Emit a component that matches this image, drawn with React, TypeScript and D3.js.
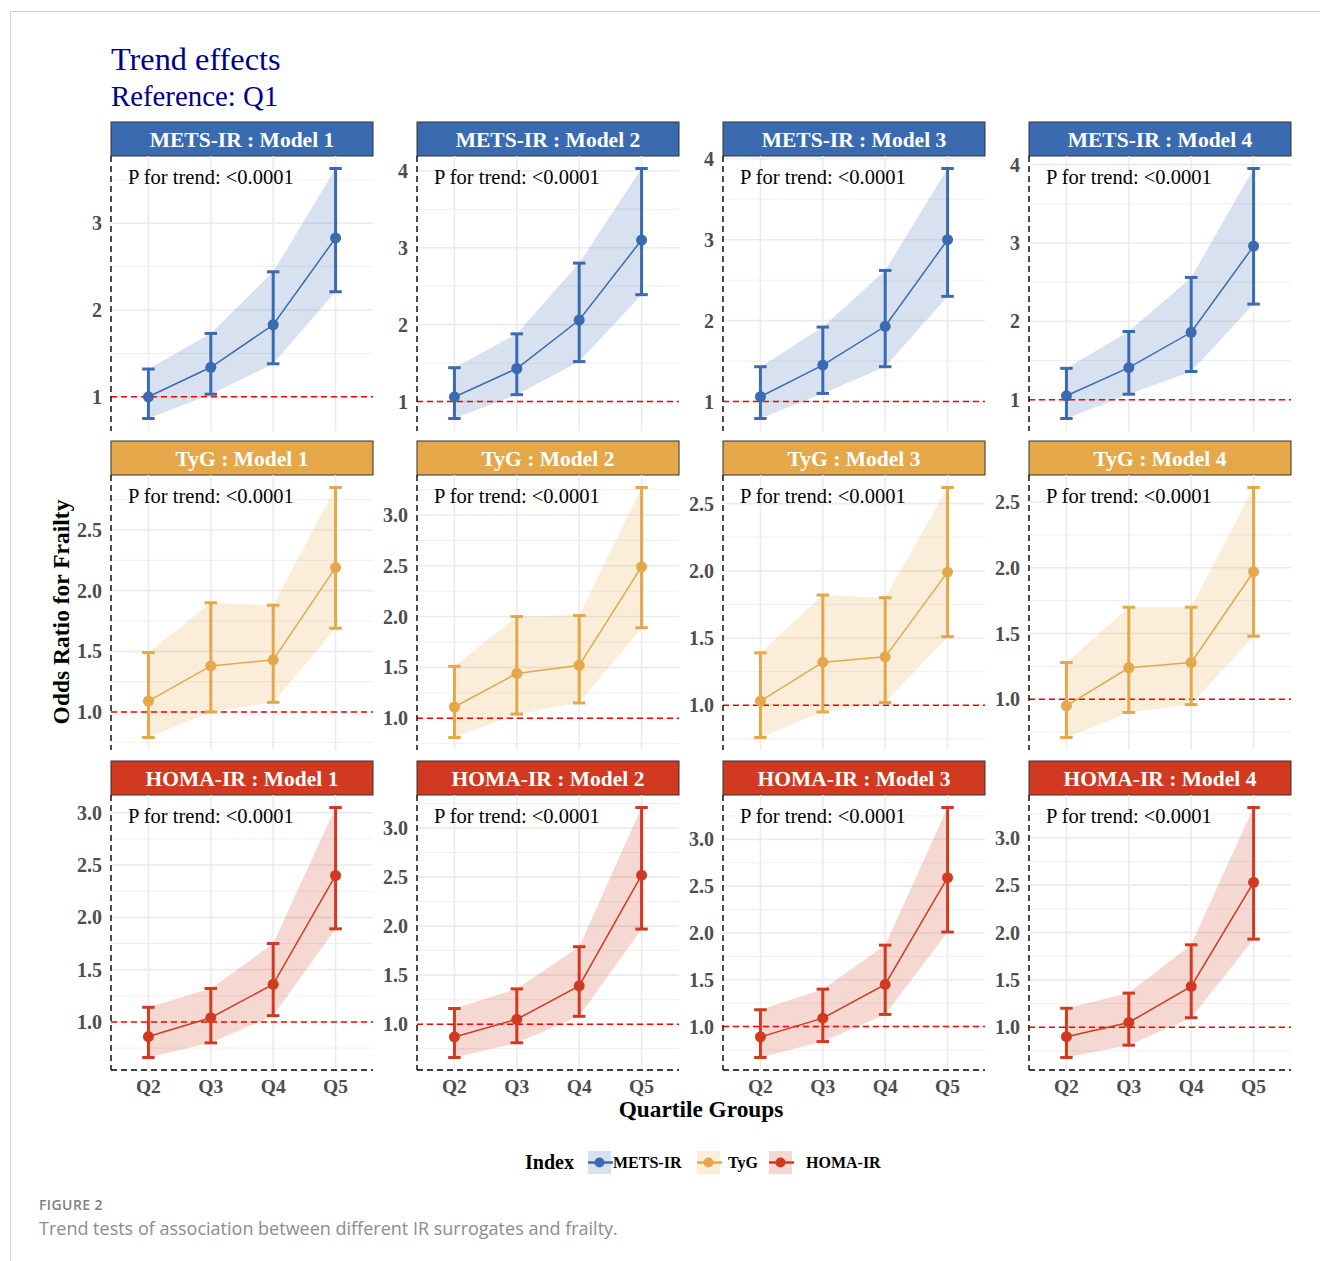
import * as d3 from 'd3'

// panels: rows = index, cols = model
const indices = ['METS-IR', 'TyG', 'HOMA-IR']
const models = ['Model 1', 'Model 2', 'Model 3', 'Model 4']
const quartiles = ['Q2', 'Q3', 'Q4', 'Q5']
const colors = ['#3A6BB1', '#E4A84B', '#D13A20']

// odds ratios (one array per model)
const metsOr = [[1.0, 1.34, 1.83, 2.83], [1.06, 1.43, 2.06, 3.1], [1.06, 1.45, 1.93, 3.0], [1.05, 1.41, 1.86, 2.96]]
const metsLo = [[0.75, 1.03, 1.38, 2.21], [0.78, 1.09, 1.52, 2.39], [0.79, 1.1, 1.43, 2.3], [0.76, 1.07, 1.36, 2.22]]
const metsHi = [[1.32, 1.73, 2.44, 3.63], [1.44, 1.88, 2.8, 4.03], [1.43, 1.92, 2.62, 3.88], [1.4, 1.87, 2.56, 3.95]]

const tygOr = [[1.09, 1.38, 1.43, 2.19], [1.11, 1.44, 1.52, 2.49], [1.03, 1.32, 1.36, 1.99], [0.95, 1.24, 1.28, 1.97]]
const tygLo = [[0.79, 1.0, 1.08, 1.69], [0.81, 1.04, 1.15, 1.89], [0.76, 0.95, 1.02, 1.51], [0.71, 0.9, 0.96, 1.48]]
const tygHi = [[1.49, 1.9, 1.88, 2.85], [1.51, 2.0, 2.01, 3.27], [1.39, 1.82, 1.8, 2.62], [1.28, 1.7, 1.7, 2.61]]

const homaOr = [[0.86, 1.04, 1.36, 2.4], [0.87, 1.05, 1.39, 2.52], [0.89, 1.09, 1.45, 2.59], [0.9, 1.05, 1.43, 2.53]]
const homaLo = [[0.66, 0.8, 1.06, 1.89], [0.66, 0.81, 1.08, 1.97], [0.67, 0.84, 1.13, 2.01], [0.68, 0.81, 1.1, 1.93]]
const homaHi = [[1.14, 1.32, 1.75, 3.05], [1.16, 1.36, 1.79, 3.21], [1.18, 1.4, 1.87, 3.34], [1.2, 1.36, 1.87, 3.32]]

const metsTicks = [1, 2, 3, 4]
const tygTicks = [1.0, 1.5, 2.0, 2.5, 3.0]
const homaTicks = [1.0, 1.5, 2.0, 2.5, 3.0]

const pText = 'P for trend: <0.0001'

const ors = [metsOr, tygOr, homaOr]
const los = [metsLo, tygLo, homaLo]
const his = [metsHi, tygHi, homaHi]
const ticks = [metsTicks, tygTicks, homaTicks]
const tickFmt = [d3.format('d'), d3.format('.1f'), d3.format('.1f')]

const serif = '"Liberation Serif", "Times New Roman", serif'
const sans = '"Open Sans", "Noto Sans", sans-serif'

const colX = [111, 417, 723, 1029]
const rowY = [122, 441, 761]
const panelW = 262
const stripH = 34
const plotH = 275

function Panel({ r, c }: { r: number; c: number }) {
  const or = ors[r][c], lo = los[r][c], hi = his[r][c]
  const color = colors[r]
  const x0 = colX[c]
  const top = rowY[r] + stripH

  const lowV = Math.min(1, d3.min(lo)!)
  const highV = Math.max(1, d3.max(hi)!)
  const pad = (highV - lowV) * 0.05
  const y = d3.scaleLinear().domain([lowV - pad, highV + pad]).range([plotH, 0])
  const x = d3.scalePoint<string>().domain(quartiles).range([0, panelW]).padding(0.6)

  const major = ticks[r].filter(t => t >= y.domain()[0] && t <= y.domain()[1])
  const step = ticks[r][1] - ticks[r][0]
  const minor = [ticks[r][0] - step / 2, ...ticks[r].map(t => t + step / 2)]
    .filter(t => t >= y.domain()[0] && t <= y.domain()[1])

  const pts = quartiles.map((q, i) => ({ q, or: or[i], lo: lo[i], hi: hi[i] }))
  const area = d3.area<typeof pts[0]>().x(d => x(d.q)!).y0(d => y(d.lo)).y1(d => y(d.hi))
  const line = d3.line<typeof pts[0]>().x(d => x(d.q)!).y(d => y(d.or))
  const cap = x.step() * 0.2 / 2

  return (
    <g>
      {/* strip */}
      <rect x={x0} y={rowY[r]} width={panelW} height={stripH} fill={color} stroke="#333" strokeWidth={1} />
      <text x={x0 + panelW / 2} y={rowY[r] + 24.5} textAnchor="middle" fill="#fff" fontWeight="bold"
        fontSize={21.5} fontFamily={serif}>{`${indices[r]} : ${models[c]}`}</text>

      <g transform={`translate(${x0},${top})`}>
        {minor.map(t => (
          <line key={'m' + t} x1={0} x2={panelW} y1={y(t)} y2={y(t)} stroke="#EBEBEB" strokeWidth={0.8} />
        ))}
        {major.map(t => (
          <line key={'M' + t} x1={0} x2={panelW} y1={y(t)} y2={y(t)} stroke="#EBEBEB" strokeWidth={1.6} />
        ))}
        {quartiles.map(q => (
          <line key={q} x1={x(q)} x2={x(q)} y1={0} y2={plotH} stroke="#EBEBEB" strokeWidth={1.6} />
        ))}

        <path d={area(pts)!} fill={color} fillOpacity={0.2} />
        <line x1={0} x2={panelW} y1={y(1)} y2={y(1)} stroke="#FF0000" strokeWidth={1.5} strokeDasharray="6,4" />
        <path d={line(pts)!} fill="none" stroke={color} strokeWidth={1.5} />
        {pts.map(d => (
          <g key={d.q} stroke={color} strokeWidth={3}>
            <line x1={x(d.q)} x2={x(d.q)} y1={y(d.lo)} y2={y(d.hi)} />
            <line x1={x(d.q)! - cap} x2={x(d.q)! + cap} y1={y(d.lo)} y2={y(d.lo)} />
            <line x1={x(d.q)! - cap} x2={x(d.q)! + cap} y1={y(d.hi)} y2={y(d.hi)} />
          </g>
        ))}
        {pts.map(d => (
          <circle key={'c' + d.q} cx={x(d.q)} cy={y(d.or)} r={5.5} fill={color} />
        ))}

        {/* y axis */}
        <line x1={0} x2={0} y1={0} y2={plotH} stroke="#000" strokeWidth={1.4} strokeDasharray="6,4" />
        {major.map(t => (
          <text key={'l' + t} x={-9} y={y(t)} dy="0.35em" textAnchor="end" fontWeight="bold" fontSize={20}
            fill="#4D4D4D" fontFamily={serif}>{tickFmt[r](t)}</text>
        ))}

        <text x={17} y={28} fontSize={20.5} fill="#000" fontFamily={serif}>{pText}</text>

        {r === indices.length - 1 && (
          <g>
            <line x1={0} x2={panelW} y1={plotH} y2={plotH} stroke="#000" strokeWidth={1.4} strokeDasharray="6,4" />
            {quartiles.map(q => (
              <text key={'x' + q} x={x(q)} y={plotH + 23} textAnchor="middle" fontWeight="bold" fontSize={19.5}
                fill="#4D4D4D" fontFamily={serif}>{q}</text>
            ))}
          </g>
        )}
      </g>
    </g>
  )
}

const legendX = [588, 697, 769]

export default function App() {
  return (
    <svg width={1320} height={1261} style={{ position: 'absolute', left: 0, top: 0, background: '#fff' }}>
      <rect x={10.5} y={11.5} width={1330} height={1260} fill="#fff" stroke="#D3D3D3" strokeWidth={1} />

      <text x={111} y={70} fontSize={32.3} fill="#00008B" fontFamily={serif}>Trend effects</text>
      <text x={111} y={106} fontSize={28.8} fill="#00008B" fontFamily={serif}>Reference: Q1</text>

      {indices.map((_, r) => models.map((_, c) => <Panel key={r + '-' + c} r={r} c={c} />))}

      <text x={701} y={1117} textAnchor="middle" fontWeight="bold" fontSize={23.3} fontFamily={serif}>Quartile Groups</text>
      <text transform="translate(69,612) rotate(-90)" textAnchor="middle" fontWeight="bold" fontSize={23.5}
        fontFamily={serif}>Odds Ratio for Frailty</text>

      {/* legend */}
      <text x={525} y={1169} fontWeight="bold" fontSize={20} fontFamily={serif}>Index</text>
      {indices.map((name, i) => (
        <g key={name} transform={`translate(${legendX[i]},1151)`}>
          <rect x={0} y={0} width={23} height={23} fill={colors[i]} fillOpacity={0.2} />
          <line x1={0} x2={25} y1={11.5} y2={11.5} stroke={colors[i]} strokeWidth={2.5} />
          <circle cx={11.5} cy={11.5} r={5} fill={colors[i]} />
          <text x={i === 2 ? 37 : i === 1 ? 31 : 25} y={17} fontWeight="bold" fontSize={16} fontFamily={serif}>{name}</text>
        </g>
      ))}

      <text x={39} y={1210} fontSize={14} letterSpacing={0.4} fill="#808080" fontFamily={sans} fontWeight={600}>FIGURE 2</text>
      <text x={39} y={1235} fontSize={18} fill="#8C8C8C" fontFamily={sans}>
        Trend tests of association between different IR surrogates and frailty.
      </text>
    </svg>
  )
}
